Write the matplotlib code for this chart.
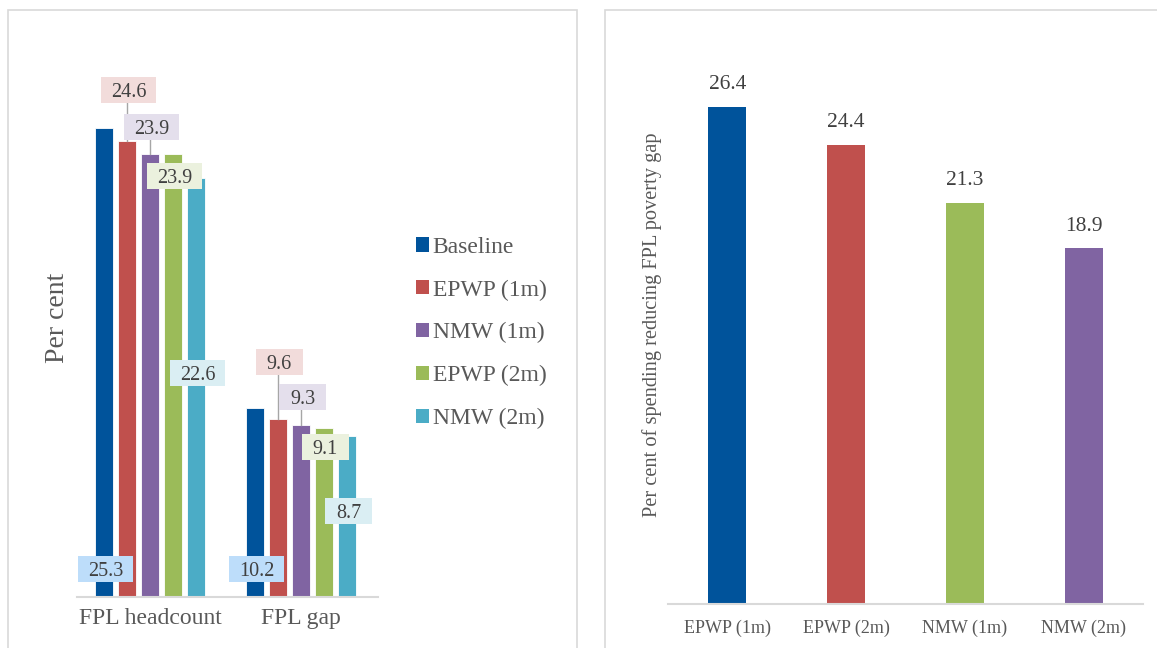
import matplotlib
matplotlib.use("Agg")
import matplotlib.pyplot as plt
from matplotlib.patches import Rectangle, Patch
import numpy as np

# ---- data -------------------------------------------------------------
groups = ["FPL headcount", "FPL gap"]
series = ["Baseline", "EPWP (1m)", "NMW (1m)", "EPWP (2m)", "NMW (2m)"]
headcount = [25.3, 24.6, 23.9, 23.9, 22.6]
gap = [10.2, 9.6, 9.3, 9.1, 8.7]

policies = ["EPWP (1m)", "EPWP (2m)", "NMW (1m)", "NMW (2m)"]
spending_share = [26.4, 24.4, 21.3, 18.9]

# ---- styling ----------------------------------------------------------
series_colors = ["#00539B", "#C0504D", "#8064A2", "#9BBB59", "#4BACC6"]
label_fills = ["#BDDDFA", "#F2DCDB", "#E4DFEC", "#EBF1DE", "#DAEEF3"]
policy_colors = ["#00539B", "#C0504D", "#9BBB59", "#8064A2"]
text_dark = "#404040"
text_grey = "#595959"
axis_grey = "#D9D9D9"

# vertical placement (data units) of the value boxes in the left chart
label_y = [[1.51, 27.35, 25.35, 22.7, 12.08],
           [1.51, 12.68, 10.79, 8.09, 4.64]]
# value box size in data units (width along x, height along y)
box_w = [0.37, 0.37]
box_w_small = 0.31
box_h = 1.42

plt.rcParams["font.family"] = ["Liberation Serif", "DejaVu Serif"]

W, H = 1157, 648
fig = plt.figure(figsize=(W / 100, H / 100), dpi=100)


def px_axes(x0, x1, y_top, y_bot):
    return fig.add_axes([x0 / W, 1 - y_bot / H, (x1 - x0) / W, (y_bot - y_top) / H])


# panel frames
fig.patches.append(Rectangle((8 / W, -0.05), (577 - 8) / W, 1.05 - 10 / H,
                             transform=fig.transFigure, fill=False,
                             edgecolor=axis_grey, linewidth=1.2))
fig.patches.append(Rectangle((605 / W, -0.05), 1.0, 1.05 - 10 / H,
                             transform=fig.transFigure, fill=False,
                             edgecolor=axis_grey, linewidth=1.2))

# ---- left: grouped bars -----------------------------------------------
ax = px_axes(77, 378, 40.8, 597)
step = 23 / 151
bw = 18 / 151
x = np.arange(len(groups))
values = [headcount, gap]
for j, name in enumerate(series):
    vals = [values[g][j] for g in range(len(groups))]
    ax.bar(x + (j - 2) * step, vals, width=bw, color=series_colors[j],
           edgecolor="white", linewidth=0.6, label=name, zorder=2)

for g in range(len(groups)):
    for j in range(len(series)):
        v = values[g][j]
        xc = x[g] + (j - 2) * step
        ly = label_y[g][j]
        txt = f"{v:.1f}"
        bwid = box_w[g] if len(txt) > 3 else box_w_small
        if ly > v:
            ax.plot([xc, xc], [v, ly], color="#A6A6A6", lw=1.0, zorder=3 + 2 * j)
        ax.add_patch(Rectangle((xc + 0.01 - bwid / 2, ly - box_h / 2), bwid, box_h,
                               facecolor=label_fills[j], edgecolor="none",
                               zorder=4 + 2 * j))
        ax.text(xc + 0.01, ly, txt, ha="center", va="center_baseline", fontsize=14.5,
                color=text_dark, zorder=5 + 2 * j)

ax.set_xlim(-0.483, 1.51)
ax.set_ylim(0, 30)
ax.set_xticks(x)
ax.set_xticklabels(groups, fontsize=17, color=text_grey)
ax.tick_params(axis="x", length=0, pad=8)
ax.set_yticks([])
for s in ["top", "right", "left"]:
    ax.spines[s].set_visible(False)
ax.spines["bottom"].set_color(axis_grey)
ax.spines["bottom"].set_linewidth(1.5)
ax.set_facecolor("none")
fig.text(58 / W, 1 - 318 / H, "Per cent", rotation=90, ha="center", va="center",
         fontsize=20, color=text_grey)

handles = [Patch(facecolor=c, edgecolor="none") for c in series_colors]
fig.legend(handles, series, loc="center left",
           bbox_to_anchor=(395 / W, 1 - 333 / H), frameon=False, fontsize=17,
           handlelength=0.55, handleheight=0.55, handletextpad=0.15,
           labelspacing=0.92, labelcolor=text_grey)

# ---- right: single series ---------------------------------------------
ax2 = px_axes(668, 1143, 39.1, 604)
xp = np.arange(len(policies))
bars = ax2.bar(xp, spending_share, width=38 / 119, color=policy_colors, zorder=2)
for rect, v in zip(bars, spending_share):
    ax2.annotate(f"{v:.1f}", (rect.get_x() + rect.get_width() / 2, v),
                 xytext=(0, 9), textcoords="offset points", ha="center",
                 va="bottom", fontsize=15.5, color=text_dark)
ax2.set_xlim(-0.5, 3.5)
ax2.set_ylim(0, 30)
ax2.set_xticks(xp)
ax2.set_xticklabels(policies, fontsize=13, color=text_grey)
ax2.tick_params(axis="x", length=0, pad=11)
ax2.set_yticks([])
for s in ["top", "right", "left"]:
    ax2.spines[s].set_visible(False)
ax2.spines["bottom"].set_color(axis_grey)
ax2.spines["bottom"].set_linewidth(1.5)
ax2.set_facecolor("none")
fig.text(652 / W, 1 - 325 / H, "Per cent of spending reducing FPL poverty gap",
         rotation=90, ha="center", va="center", fontsize=14.7, color=text_grey)

fig.savefig("out.png", dpi=100)
